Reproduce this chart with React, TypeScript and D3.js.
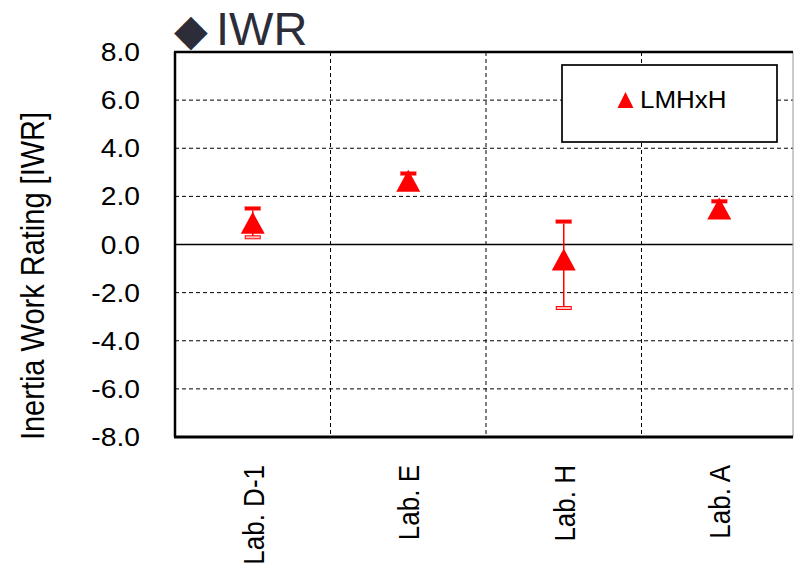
import React from "react";
import * as d3 from "d3";

const categories = ["Lab. D-1", "Lab. E", "Lab. H", "Lab. A"];
const values = [0.9, 2.65, -0.62, 1.5];
const highs = [1.5, 2.95, 0.95, 1.8];
const lows = [0.3, 2.4, -2.64, 1.25];
const yTicks = [8, 6, 4, 2, 0, -2, -4, -6, -8];
const seriesName = "LMHxH";
const titleMark = "◆";
const title = "IWR";
const yTitle = "Inertia Work Rating [IWR]";

const W = 796;
const H = 572;
const left = 175;
const rightScale = 797;
const right = 793;
const top = 52;
const bottom = 437;
const SX = 1.13;
const FONT = "'Liberation Sans', Arial, sans-serif";

export default function App() {
  const x = d3.scaleBand<string>().domain(categories).range([left, rightScale]);
  const y = d3.scaleLinear().domain([-8, 8]).range([bottom, top]);
  const tri = (w: number, h: number) => `M0,${-h / 2}L${w / 2},${h / 2}L${-w / 2},${h / 2}Z`;
  const boundaries = categories.slice(1).map((c) => x(c) as number);

  return (
    <svg width={W} height={H} style={{ position: "absolute", left: 0, top: 0, background: "#fff" }}>
      <rect x={0} y={0} width={W} height={H} fill="#fff" />
      {/* grid */}
      {yTicks
        .filter((t) => t !== 0 && t !== 8 && t !== -8)
        .map((t) => (
          <line key={"h" + t} x1={left} x2={right} y1={y(t)} y2={y(t)} stroke="#000" strokeWidth={1} strokeDasharray="4,3" />
        ))}
      {boundaries.map((b, i) => (
        <line key={"v" + i} x1={b} x2={b} y1={top} y2={bottom} stroke="#000" strokeWidth={1} strokeDasharray="4,3" />
      ))}
      <line x1={left} x2={right} y1={y(0)} y2={y(0)} stroke="#000" strokeWidth={1.5} />
      {/* border */}
      <line x1={right} x2={right} y1={top} y2={bottom} stroke="#999" strokeWidth={1} />
      <line x1={left - 1} x2={right} y1={top} y2={top} stroke="#000" strokeWidth={2.5} />
      <line x1={left - 1} x2={right} y1={bottom} y2={bottom} stroke="#000" strokeWidth={3} />
      <line x1={left} x2={left} y1={top} y2={bottom} stroke="#000" strokeWidth={2.5} />
      {/* y ticks */}
      {yTicks.map((t) => (
        <g key={"yt" + t} transform={`translate(140,${y(t) + 9}) scale(${SX},1)`}>
          <text x={0} y={0} textAnchor="end" fontSize={25} fontFamily={FONT} fill="#000">
            {t.toFixed(1)}
          </text>
        </g>
      ))}
      {/* y title */}
      <g transform={`translate(44,276) scale(${SX},1) rotate(-90)`}>
        <text x={0} y={0} textAnchor="middle" fontSize={29} fontFamily={FONT} fill="#000">
          {yTitle}
        </text>
      </g>
      {/* x labels */}
      {categories.map((c) => (
        <g key={"xl" + c} transform={`translate(${(x(c) as number) + x.bandwidth() / 2 + 11},465) scale(${SX},1) rotate(-90)`}>
          <text x={0} y={0} textAnchor="end" fontSize={26} fontFamily={FONT} fill="#000">
            {c}
          </text>
        </g>
      ))}
      {/* title */}
      <text x={174} y={45} fontFamily={FONT} fill="#2d2d3a">
        <tspan fontSize={44}>{titleMark}</tspan>
        <tspan x={216} fontSize={47}>{title}</tspan>
      </text>
      {/* error bars + markers */}
      {categories.map((c, i) => {
        const cx = (x(c) as number) + x.bandwidth() / 2;
        return (
          <g key={"m" + c}>
            <line x1={cx} x2={cx} y1={y(highs[i])} y2={y(lows[i])} stroke="#ff0000" strokeWidth={1.5} />
            <rect x={cx - 8} y={y(highs[i]) - 2} width={16} height={4} fill="#ff0000" stroke="#ff8080" strokeWidth={0.5} />
            <rect x={cx - 7.5} y={y(lows[i]) - 1.5} width={15} height={3} fill="#ffc0c0" stroke="#ff0000" strokeWidth={1} />
            <path d={tri(24, 22)} transform={`translate(${cx},${y(values[i])})`} fill="#ff0000" />
          </g>
        );
      })}
      {/* legend */}
      <rect x={562} y={65} width={215} height={77} fill="#fff" stroke="#000" strokeWidth={1.7} />
      <path d={tri(16, 16)} transform="translate(625.5,100)" fill="#ff0000" />
      <g transform={`translate(640,108) scale(${SX},1)`}>
        <text x={0} y={0} fontSize={23} fontFamily={FONT} fill="#000">
          {seriesName}
        </text>
      </g>
    </svg>
  );
}
